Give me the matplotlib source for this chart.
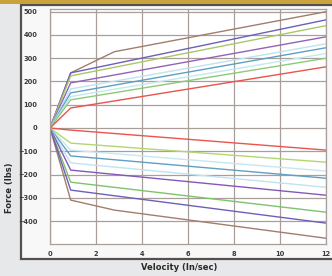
import matplotlib.pyplot as plt
from matplotlib.patches import Rectangle

# velocity breakpoints (in/sec)
vel = [0, 0.9, 12]
brown_vel = [0, 0.9, 2.8, 12]

# extension side (positive force), top to bottom, brown handled separately
pos_knee = [237, 224, 194, 168, 151, 135, 121, 86]
pos_end = [465, 440, 392, 362, 345, 320, 300, 263]
pos_colors = ['#6c60b8', '#a9c866', '#9462b8', '#bfe3ef', '#5f9fc4',
              '#c5e8ee', '#8acb76', '#e9544c']

# compression side (negative force), top to bottom
neg_knee = [-9, -65, -95, -120, -150, -181, -233, -267]
neg_end = [-95, -147, -185, -216, -255, -289, -362, -409]
neg_colors = ['#e9544c', '#b3d770', '#c5e8ee', '#5f9fc4', '#bfe3ef',
              '#8558b5', '#7cc46a', '#6c60b8']

brown_pos = [0, 237, 328, 500]
brown_neg = [0, -310, -353, -474]

xticks = [0, 2, 4, 6, 8, 10, 12]
yticks = [-400, -300, -200, -100, 0, 100, 200, 300, 400, 500]

fig = plt.figure(figsize=(3.32, 2.76), dpi=100)
fig.patch.set_facecolor('#e7e8ea')

# panel behind the chart
fig.patches.append(Rectangle((21 / 332, 17 / 276), 1.0, 254 / 276,
                             transform=fig.transFigure, facecolor='#f8f8f8',
                             edgecolor='#55504e', linewidth=1.6, zorder=0))
# gold strip at the top
fig.patches.append(Rectangle((0, 272 / 276), 1, 4 / 276, transform=fig.transFigure,
                             facecolor='#c9a23c', edgecolor='none', zorder=1))

ax = fig.add_axes([50 / 332, 31.7 / 276, 276 / 332, 235.4 / 276])
ax.set_zorder(5)
ax.set_facecolor('white')

ax.plot(brown_vel, brown_pos, color='#a27d6e', lw=1)
ax.plot(brown_vel, brown_neg, color='#a27d6e', lw=1)
for k, e, c in zip(pos_knee, pos_end, pos_colors):
    ax.plot(vel, [0, k, e], color=c, lw=1)
for k, e, c in zip(neg_knee, neg_end, neg_colors):
    ax.plot(vel, [0, k, e], color=c, lw=1)

ax.set_xlim(0, 12)
ax.set_ylim(-500, 512)
ax.set_xticks(xticks)
ax.set_yticks(yticks)
ax.grid(True, color='#a89e9a', lw=0.9)
ax.set_axisbelow(True)
for s in ax.spines.values():
    s.set_color('#a89e9a')
    s.set_linewidth(0.9)
ax.tick_params(length=0, labelsize=4.8, colors='#3a3a3a', pad=9)
ax.tick_params(axis='x', pad=5)
for lab in ax.get_xticklabels() + ax.get_yticklabels():
    lab.set_fontweight('bold')

fig.text(179 / 332, 1 - 268 / 276, 'Velocity (In/sec)', ha='center', va='center',
         fontsize=6, fontweight='bold', color='#2a2a2a')
fig.text(10 / 332, 1 - 188 / 276, 'Force (lbs)', ha='center', va='center',
         rotation=90, fontsize=6, fontweight='bold', color='#2a2a2a')

fig.savefig('out.png', dpi=100, facecolor=fig.get_facecolor())
